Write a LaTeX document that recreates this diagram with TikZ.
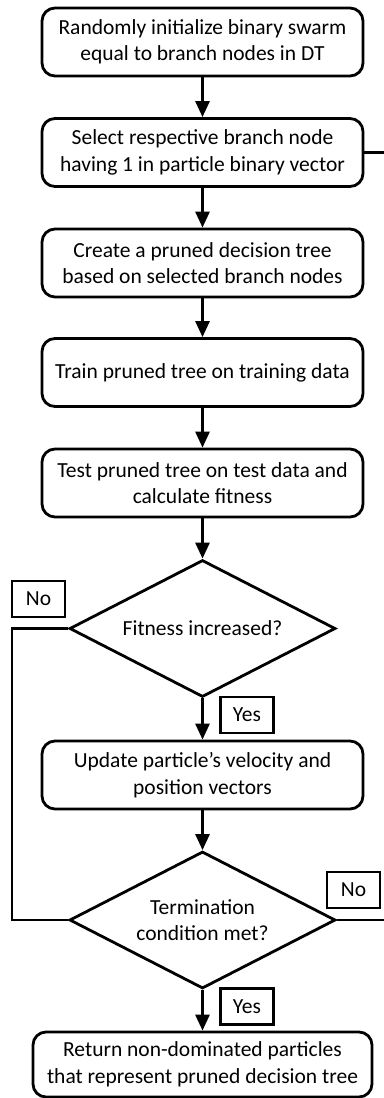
\documentclass[tikz,border=0pt]{standalone}
\usepackage{fontspec}
\setmainfont{Carlito}
\usetikzlibrary{shapes.geometric,arrows.meta}
\begin{document}
\begin{tikzpicture}[x=1pt,y=-1pt,font=\fontsize{21.5}{26.5}\selectfont, line join=miter,
		stepbox/.style={draw,rounded corners=13pt,line width=2.8pt,minimum width=321pt,minimum height=68pt,align=center,inner sep=0pt},
		check/.style={draw,diamond,aspect=1.94,line width=2.8pt,minimum width=266pt,minimum height=137pt,inner sep=0pt,align=center},
		tag/.style={draw,line width=2.2pt,minimum width=53pt,minimum height=36pt,inner sep=0pt},
		flow/.style={line width=2.8pt,-{Triangle[width=14pt,length=16pt]}},
		back/.style={line width=2.8pt}]
	\useasboundingbox (0,0) rectangle (383,1098);
	\node[stepbox] (init) at (202.5,42) {Randomly initialize binary swarm\\equal to branch nodes in DT};
	\node[stepbox] (select) at (202.5,152.5) {Select respective branch node\\having 1 in particle binary vector};
	\node[stepbox] (create) at (202.5,263) {Create a pruned decision tree\\based on selected branch nodes};
	\node[stepbox] (train) at (202.5,372.5) {Train pruned tree on training data};
	\node[stepbox] (test) at (202.5,483) {Test pruned tree on test data and\\calculate fitness};
	\node[check] (fit) at (202.5,628.5) {Fitness increased?};
	\node[stepbox] (update) at (202.5,775) {Update particle’s velocity and\\position vectors};
	\node[check] (term) at (202.5,920) {Termination\\condition met?};
	\node[stepbox,minimum width=339pt,minimum height=65pt] (ret) at (202.5,1064.5) {Return non-dominated particles\\that represent pruned decision tree};
	\node[tag] (no1) at (38.5,599) {No};
	\node[tag] (yes1) at (247,715) {Yes};
	\node[tag] (no2) at (353.5,890) {No};
	\node[tag] (yes2) at (247,1006.5) {Yes};
	\coordinate (lft) at (12,0);
	\coordinate (rgt) at (390,0);
	\foreach \a/\b in {init/select,select/create,create/train,train/test,test/fit,fit/update,update/term,term/ret}
	{
		\draw[flow] (\a.south) -- (\b.north);
	}
	\draw[back] (fit.west) -- (fit.west -| lft) -- (term.west -| lft) -- (term.west);
	\draw[back] (select.east) -- (select.east -| rgt);
	\draw[back] (term.east) -- (term.east -| rgt);
\end{tikzpicture}
\end{document}
